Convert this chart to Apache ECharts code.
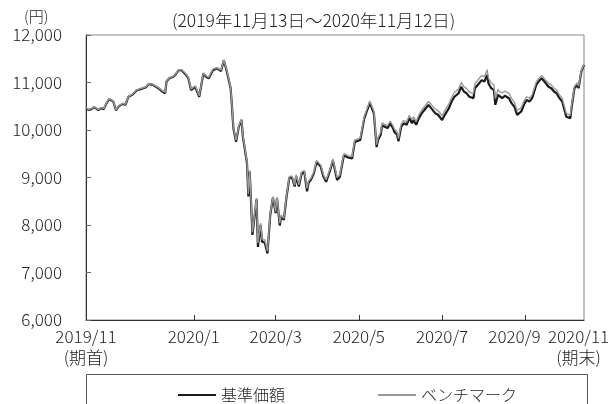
<!DOCTYPE html>
<html>
<head>
<meta charset="utf-8">
<script src="https://cdn.jsdelivr.net/npm/echarts@6/dist/echarts.min.js"></script>
<style>
  html, body { margin: 0; padding: 0; background: #fff; }
  #chart { width: 615px; height: 404px; }
</style>
</head>
<body>
<div id="chart"></div>
<script>
// period: 2019/11/13 - 2020/11/12
const dates = [
  '2019-11-13', '2019-11-15', '2019-11-17', '2019-11-19', '2019-11-22', '2019-11-24', '2019-11-26', '2019-11-28', '2019-11-30',
  '2019-12-03', '2019-12-05', '2019-12-07', '2019-12-10', '2019-12-12', '2019-12-14', '2019-12-17', '2019-12-20', '2019-12-23',
  '2019-12-27', '2019-12-29', '2020-01-01', '2020-01-05', '2020-01-08', '2020-01-10', '2020-01-11', '2020-01-13', '2020-01-16',
  '2020-01-18', '2020-01-20', '2020-01-22', '2020-01-25', '2020-01-27', '2020-01-29', '2020-02-01', '2020-02-04', '2020-02-07',
  '2020-02-09', '2020-02-11', '2020-02-14', '2020-02-17', '2020-02-20', '2020-02-22', '2020-02-24', '2020-02-27', '2020-02-28',
  '2020-02-29', '2020-03-02', '2020-03-04', '2020-03-06', '2020-03-07', '2020-03-10', '2020-03-11', '2020-03-12', '2020-03-14',
  '2020-03-17', '2020-03-18', '2020-03-20', '2020-03-21', '2020-03-23', '2020-03-25', '2020-03-27', '2020-03-29', '2020-03-31',
  '2020-04-01', '2020-04-03', '2020-04-04', '2020-04-06', '2020-04-08', '2020-04-10', '2020-04-12', '2020-04-14', '2020-04-15',
  '2020-04-17', '2020-04-19', '2020-04-21', '2020-04-23', '2020-04-24', '2020-04-26', '2020-04-28', '2020-04-30', '2020-05-03',
  '2020-05-05', '2020-05-07', '2020-05-10', '2020-05-12', '2020-05-15', '2020-05-17', '2020-05-20', '2020-05-23', '2020-05-26',
  '2020-05-28', '2020-06-01', '2020-06-04', '2020-06-08', '2020-06-11', '2020-06-13', '2020-06-14', '2020-06-16', '2020-06-17',
  '2020-06-19', '2020-06-21', '2020-06-23', '2020-06-25', '2020-06-26', '2020-06-28', '2020-06-29', '2020-07-01', '2020-07-03',
  '2020-07-05', '2020-07-07', '2020-07-09', '2020-07-10', '2020-07-12', '2020-07-14', '2020-07-16', '2020-07-18', '2020-07-21',
  '2020-07-23', '2020-07-26', '2020-07-28', '2020-07-31', '2020-08-02', '2020-08-05', '2020-08-07', '2020-08-09', '2020-08-12',
  '2020-08-14', '2020-08-16', '2020-08-18', '2020-08-20', '2020-08-23', '2020-08-24', '2020-08-27', '2020-08-29', '2020-08-31',
  '2020-09-02', '2020-09-03', '2020-09-05', '2020-09-07', '2020-09-08', '2020-09-10', '2020-09-11', '2020-09-13', '2020-09-15',
  '2020-09-18', '2020-09-20', '2020-09-22', '2020-09-24', '2020-09-25', '2020-09-27', '2020-09-29', '2020-10-01', '2020-10-03',
  '2020-10-05', '2020-10-08', '2020-10-10', '2020-10-12', '2020-10-13', '2020-10-14', '2020-10-17', '2020-10-19', '2020-10-21',
  '2020-10-23', '2020-10-25', '2020-10-27', '2020-10-29', '2020-10-30', '2020-11-02', '2020-11-03', '2020-11-05', '2020-11-07',
  '2020-11-08', '2020-11-10', '2020-11-12'
]

// 基準価額
const navValues = [
  10460, 10420, 10440, 10480, 10420, 10460, 10440, 10560, 10650,
  10600, 10410, 10500, 10550, 10530, 10700, 10740, 10830, 10860,
  10900, 10970, 10950, 10880, 10810, 10770, 11020, 11090, 11120,
  11180, 11260, 11260, 11170, 11090, 10840, 10910, 10700, 11190,
  11120, 11090, 11260, 11300, 11240, 11470, 11260, 10880, 10490,
  10040, 9750, 10070, 10210, 9860, 9300, 8600, 9120, 7790,
  8540, 7540, 8000, 7650, 7630, 7400, 8200, 8580, 8250,
  8560, 7990, 8180, 8110, 8600, 8990, 9000, 8810, 9030,
  8810, 9080, 9120, 8710, 8880, 8960, 9090, 9330, 9230,
  9020, 8910, 9160, 9360, 8950, 9010, 9470, 9420, 9400,
  9750, 9790, 10250, 10570, 10350, 9640, 9790, 9900, 10100,
  10070, 10040, 10140, 10040, 9960, 9900, 9760, 10070, 10140,
  10110, 10250, 10140, 10210, 10110, 10250, 10350, 10420, 10530,
  10460, 10350, 10320, 10210, 10320, 10460, 10600, 10700, 10770,
  10910, 10810, 10770, 10700, 10670, 10880, 10980, 11050, 11020,
  11160, 10980, 10880, 10840, 10530, 10740, 10700, 10670, 10720,
  10670, 10560, 10490, 10320, 10280, 10390, 10530, 10630, 10600,
  10670, 10950, 11030, 11090, 11120, 11020, 10910, 10880, 10810,
  10770, 10670, 10600, 10390, 10280, 10250, 10490, 10880, 10950,
  10880, 11230, 11370
]

// ベンチマーク
const benchValues = [
  10470, 10430, 10450, 10490, 10430, 10470, 10450, 10570, 10660,
  10610, 10420, 10510, 10560, 10540, 10710, 10750, 10840, 10870,
  10910, 10980, 10960, 10890, 10830, 10790, 11030, 11100, 11130,
  11190, 11270, 11270, 11190, 11110, 10860, 10930, 10720, 11200,
  11140, 11110, 11280, 11310, 11260, 11480, 11280, 10900, 10510,
  10060, 9780, 10090, 10230, 9890, 9330, 8650, 9150, 7850,
  8570, 7620, 8040, 7700, 7690, 7450, 8230, 8600, 8280,
  8590, 8040, 8210, 8140, 8620, 9020, 9030, 8840, 9060,
  8850, 9110, 9150, 8770, 8920, 8990, 9120, 9360, 9260,
  9060, 8950, 9190, 9390, 9000, 9050, 9500, 9460, 9440,
  9790, 9830, 10290, 10610, 10400, 9690, 9840, 9950, 10150,
  10120, 10090, 10190, 10090, 10020, 9960, 9820, 10130, 10200,
  10170, 10310, 10210, 10280, 10180, 10320, 10420, 10490, 10600,
  10540, 10440, 10410, 10300, 10410, 10550, 10690, 10790, 10860,
  11000, 10910, 10870, 10800, 10770, 10970, 11080, 11150, 11120,
  11270, 11090, 10990, 10950, 10660, 10860, 10810, 10780, 10820,
  10770, 10660, 10580, 10410, 10370, 10470, 10610, 10700, 10670,
  10740, 11010, 11090, 11150, 11170, 11080, 10980, 10950, 10880,
  10840, 10740, 10670, 10460, 10350, 10310, 10540, 10920, 10990,
  10920, 11250, 11380
]

// label anchors (2020/9 and 2020/11 sit a little left of their month ends, as in the original)
const xLabelDates = ['2019-11-13', '2020-01-31', '2020-03-31', '2020-05-31', '2020-07-31', '2020-09-22', '2020-11-08']
const xLabelTexts = ['2019/11\n(期首)', '2020/1', '2020/3', '2020/5', '2020/7', '2020/9', '2020/11\n(期末)']
const xTickDates = ['2020-01-31', '2020-03-31', '2020-05-31', '2020-07-31', '2020-09-30']

const fontFamily = "'Noto Sans CJK JP', 'Noto Sans', sans-serif"

// days since the first date (value axis, the time axis breaks with customValues)
function dayOf(s) {
  const p = s.split('-')
  const t = Date.UTC(+p[0], +p[1] - 1, +p[2])
  const q = dates[0].split('-')
  return Math.round((t - Date.UTC(+q[0], +q[1] - 1, +q[2])) / 86400000)
}

const labelDays = xLabelDates.map(dayOf)

const chart = echarts.init(document.getElementById('chart'))
chart.setOption({
  animation: false,
  backgroundColor: '#fff',
  textStyle: { fontFamily: fontFamily },
  grid: {
    left: 86,
    right: 31,
    top: 35,
    bottom: 84,
    show: true,
    borderColor: '#888',
    borderWidth: 1,
    outerBoundsMode: 'none'
  },
  legend: {
    left: 173,
    top: 382,
    icon: 'rect',
    itemWidth: 38,
    itemHeight: 2,
    itemGap: 93,
    textStyle: { fontSize: 16, fontWeight: 300, color: '#222', fontFamily: fontFamily },
    data: ['基準価額', 'ベンチマーク']
  },
  graphic: [
    {
      type: 'text',
      left: 24,
      top: 9,
      style: { text: '(円)', fontSize: 15, fontWeight: 300, fill: '#222', fontFamily: fontFamily }
    },
    {
      type: 'text',
      left: 172,
      top: 12,
      style: { text: '(2019年11月13日～2020年11月12日)', fontSize: 17.5, fontWeight: 300, fill: '#222', fontFamily: fontFamily }
    },
    {
      type: 'rect',
      shape: { x: 86.5, y: 374.5, width: 501, height: 40 },
      style: { fill: 'none', stroke: '#555', lineWidth: 1 }
    }
  ],
  xAxis: {
    type: 'value',
    min: 0,
    max: dayOf(dates[dates.length - 1]),
    axisLine: { lineStyle: { color: '#333', width: 1 } },
    axisTick: {
      show: true,
      inside: true,
      length: 5,
      customValues: xTickDates.map(dayOf),
      lineStyle: { color: '#333' }
    },
    splitLine: { show: false },
    axisLabel: {
      customValues: labelDays,
      showMinLabel: true,
      showMaxLabel: true,
      hideOverlap: false,
      margin: 6,
      fontSize: 17,
      fontWeight: 300,
      lineHeight: 21,
      color: '#222',
      fontFamily: fontFamily,
      formatter: function (value) {
        const i = labelDays.indexOf(value)
        return i < 0 ? '' : xLabelTexts[i]
      }
    }
  },
  yAxis: {
    type: 'value',
    min: 6000,
    max: 12000,
    interval: 1000,
    axisLine: { show: true, lineStyle: { color: '#333', width: 1 } },
    axisTick: { show: true, inside: true, length: 5, lineStyle: { color: '#666' } },
    splitLine: { show: false },
    axisLabel: {
      margin: 24,
      fontSize: 17,
      fontWeight: 300,
      color: '#222',
      fontFamily: fontFamily,
      formatter: function (v) {
        return v.toLocaleString('en-US')
      }
    }
  },
  series: [
    {
      name: '基準価額',
      type: 'line',
      showSymbol: false,
      itemStyle: { color: '#1a1a1a' },
      lineStyle: { color: '#1a1a1a', width: 2.2 },
      data: dates.map((d, i) => [dayOf(d), navValues[i]]),
      z: 2
    },
    {
      name: 'ベンチマーク',
      type: 'line',
      showSymbol: false,
      itemStyle: { color: '#999' },
      lineStyle: { color: '#999', width: 1.4 },
      data: dates.map((d, i) => [dayOf(d), benchValues[i]]),
      z: 3
    }
  ]
})
</script>
</body>
</html>
